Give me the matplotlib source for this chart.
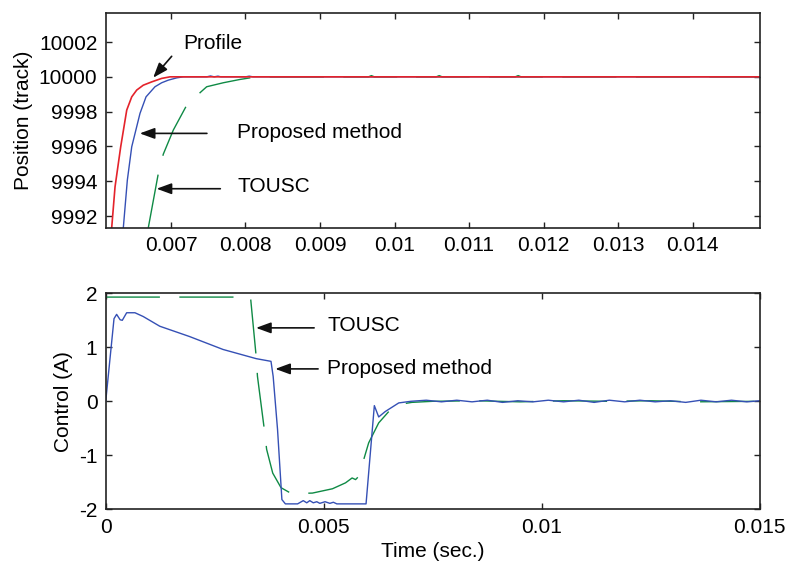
import matplotlib
matplotlib.use("Agg")
import matplotlib.pyplot as plt

plt.rcParams['font.family'] = ['Liberation Sans', 'DejaVu Sans']
plt.rcParams['axes.unicode_minus'] = False
plt.rcParams['lines.scale_dashes'] = False

# 颜色
RED = '#e4232b'
BLUE = '#3550b5'
GREEN = '#0f8a45'

# 上图: 位置 (track)
profile_t = [0.00615, 0.006204, 0.006249, 0.006325, 0.006406, 0.006473, 0.00654,
             0.006628, 0.006741, 0.006875, 0.006987, 0.0149]
profile_v = [9989.0, 9991.32, 9993.68, 9995.98, 9998.09, 9998.85, 9999.24,
             9999.52, 9999.71, 9999.91, 10000.0, 10000.0]

prop_pos_t = [0.00632, 0.00636, 0.006414, 0.006473, 0.006584, 0.006665, 0.006785,
              0.006875, 0.006964, 0.007076, 0.007165, 0.00748, 0.00753, 0.00758,
              0.00763, 0.00767, 0.00800, 0.00805, 0.0081, 0.0149]
prop_pos_v = [9989.0, 9991.32, 9994.06, 9995.98, 9997.90, 9998.85, 9999.43,
              9999.66, 9999.81, 9999.94, 10000.0, 10000.0, 10000.05, 10000.0,
              10000.04, 10000.0, 10000.0, 10000.04, 10000.0, 10000.0]

tousc_pos_t = [0.006695, 0.00683, 0.006897, 0.007031, 0.007211, 0.007403, 0.007479,
               0.007702, 0.007926, 0.008104, 0.00825, 0.00965, 0.00969, 0.00973,
               0.01003, 0.01006, 0.01009, 0.01056, 0.0106, 0.01064, 0.01162,
               0.01166, 0.0117, 0.0149]
tousc_pos_v = [9991.32, 9994.45, 9995.56, 9996.94, 9998.37, 9999.14, 9999.43,
               9999.66, 9999.85, 9999.97, 10000.0, 10000.0, 10000.07, 10000.0,
               10000.0, 10000.06, 10000.0, 10000.0, 10000.07, 10000.0, 10000.0,
               10000.07, 10000.0, 10000.0]

# 下图: 控制量 (A)
prop_u_t = [0.0, 0.00019, 0.00025, 0.00033, 0.00038, 0.00048, 0.00067, 0.00086,
            0.00124, 0.00192, 0.00269, 0.00345, 0.00379, 0.00384, 0.00394,
            0.00404, 0.00412, 0.0044, 0.00453, 0.00461, 0.00468, 0.00476,
            0.00484, 0.00491, 0.00503, 0.00514, 0.00522, 0.0053, 0.00597,
            0.00616, 0.00626, 0.00641, 0.00672]
prop_u_v = [0.0, 1.53, 1.61, 1.51, 1.50, 1.64, 1.64, 1.57, 1.39, 1.20, 0.96,
            0.79, 0.74, 0.46, -0.52, -1.82, -1.90, -1.90, -1.84, -1.88, -1.84,
            -1.88, -1.86, -1.89, -1.86, -1.89, -1.87, -1.90, -1.90, -0.08,
            -0.29, -0.19, -0.03]
prop_tail_t = [0.0070, 0.00735, 0.0077, 0.00805, 0.0084, 0.00875, 0.0091,
               0.00945, 0.0098, 0.01015, 0.0105, 0.01085, 0.0112, 0.01155,
               0.0119, 0.01225, 0.0126, 0.01295, 0.0133, 0.01365, 0.014,
               0.01435, 0.0147, 0.015]
prop_tail_v = [0.0, 0.02, -0.01, 0.02, -0.01, 0.02, -0.02, 0.01, -0.01, 0.02,
               -0.01, 0.02, -0.02, 0.02, -0.01, 0.02, -0.01, 0.01, -0.02, 0.02,
               -0.01, 0.02, -0.01, 0.01]

tousc_u_t = [0.0, 0.00332, 0.00345, 0.00348, 0.00364, 0.00369, 0.00383, 0.00402,
             0.00426, 0.00474, 0.0052, 0.0055, 0.00565, 0.00573, 0.00579,
             0.00592, 0.00603, 0.00626, 0.00649, 0.00672, 0.00702, 0.0075,
             0.0085, 0.0095, 0.0105, 0.0115, 0.0125, 0.0135, 0.015]
tousc_u_v = [1.93, 1.93, 0.83, 0.46, -0.54, -0.89, -1.33, -1.60, -1.71, -1.70,
             -1.62, -1.51, -1.42, -1.45, -1.40, -1.07, -0.77, -0.40, -0.19,
             -0.06, -0.02, 0.0, 0.01, -0.01, 0.01, 0.0, 0.01, -0.01, 0.0]

pos_ticks = [9992, 9994, 9996, 9998, 10000, 10002]

fig = plt.figure(figsize=(7.89, 5.67), dpi=100)
ax1 = fig.add_axes([0.134, 0.5984, 0.829, 0.3781])
ax2 = fig.add_axes([0.134, 0.1018, 0.829, 0.3809])

FS = 15
arrow = dict(arrowstyle='-|>,head_length=0.6,head_width=0.22', color='#111111',
             lw=1.2, mutation_scale=15, shrinkA=0, shrinkB=0)

# 上图
ax1.plot(tousc_pos_t, tousc_pos_v, color=GREEN, lw=1.0, dashes=(39, 14))
ax1.plot(prop_pos_t, prop_pos_v, color=BLUE, lw=1.0)
ax1.plot(profile_t, profile_v, color=RED, lw=1.2)
ax1.set_xlim(0.006124, 0.014903)
ax1.set_ylim(9991.33, 10003.65)
ax1.set_xticks([0.007, 0.008, 0.009, 0.01, 0.011, 0.012, 0.013, 0.014])
ax1.set_xticklabels(['0.007', '0.008', '0.009', '0.01', '0.011', '0.012',
                     '0.013', '0.014'])
ax1.set_yticks(pos_ticks)
ax1.set_yticklabels([str(v) for v in pos_ticks])
ax1.set_ylabel('Position (track)', fontsize=FS)

ax1.annotate('', xy=(0.006761, 9999.95), xytext=(0.007009, 10001.18),
             arrowprops=arrow)
ax1.text(0.007162, 10001.94, 'Profile', fontsize=FS, va='center', ha='left')
ax1.annotate('', xy=(0.006581, 9996.75), xytext=(0.007482, 9996.75),
             arrowprops=arrow)
ax1.text(0.007892, 9996.79, 'Proposed method', fontsize=FS, va='center', ha='left')
ax1.annotate('', xy=(0.006807, 9993.57), xytext=(0.007662, 9993.57),
             arrowprops=arrow)
ax1.text(0.007892, 9993.67, 'TOUSC', fontsize=FS, va='center', ha='left')

# 下图
ax2.plot(tousc_u_t, tousc_u_v, color=GREEN, lw=1.0, dashes=(39, 14))
ax2.plot(prop_u_t + prop_tail_t, prop_u_v + prop_tail_v, color=BLUE, lw=1.0)
ax2.set_xlim(0, 0.015)
ax2.set_ylim(-2, 2)
ax2.set_xticks([0, 0.005, 0.01, 0.015])
ax2.set_xticklabels(['0', '0.005', '0.01', '0.015'])
ax2.set_yticks([-2, -1, 0, 1, 2])
ax2.set_yticklabels(['-2', '-1', '0', '1', '2'])
ax2.set_xlabel('Time (sec.)', fontsize=FS)
ax2.set_ylabel('Control (A)', fontsize=FS)

ax2.annotate('', xy=(0.003447, 1.36), xytext=(0.004779, 1.36), arrowprops=arrow)
ax2.text(0.005075, 1.40, 'TOUSC', fontsize=FS, va='center', ha='left')
ax2.annotate('', xy=(0.003888, 0.60), xytext=(0.00487, 0.60), arrowprops=arrow)
ax2.text(0.005075, 0.605, 'Proposed method', fontsize=FS, va='center', ha='left')

for ax in (ax1, ax2):
    ax.tick_params(direction='in', top=True, right=True, length=4, width=1.0,
                   labelsize=FS, color='#222222', pad=6)
    for s in ax.spines.values():
        s.set_linewidth(1.2)
        s.set_color('#222222')

fig.savefig('out.png', dpi=100)
